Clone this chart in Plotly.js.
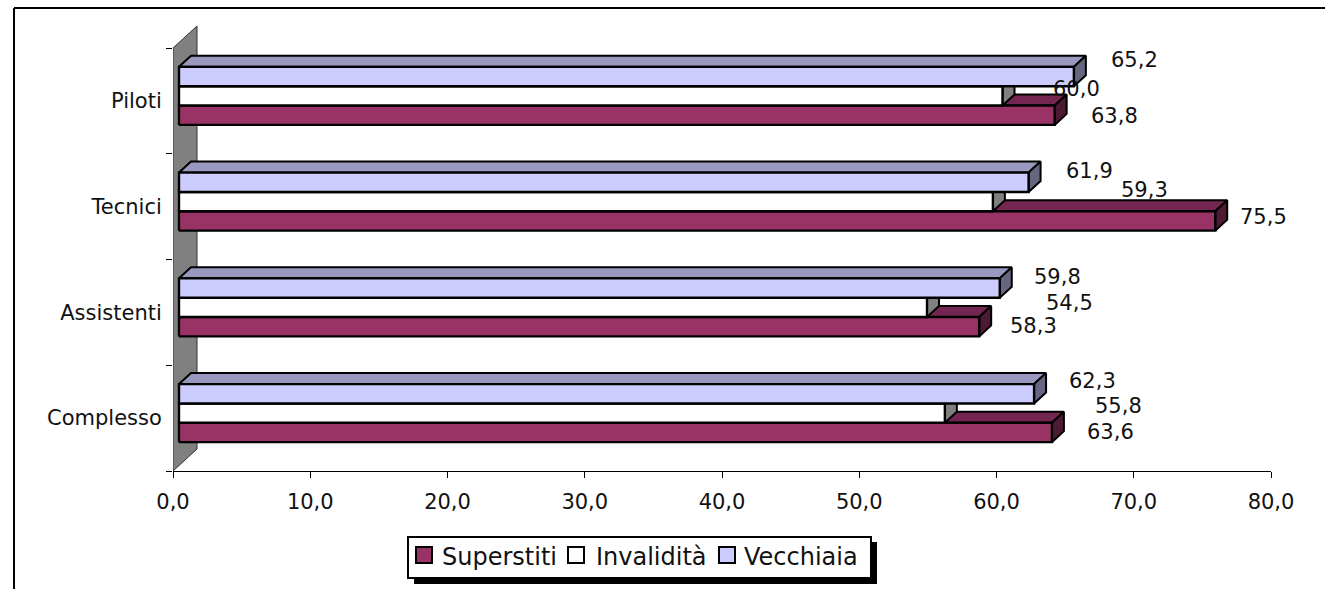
<!DOCTYPE html>
<html>
<head>
<meta charset="utf-8">
<script src="https://cdn.plot.ly/plotly-3.0.1.min.js"></script>
<style>html,body{margin:0;padding:0;background:#fff}#c{width:1325px;height:589px}</style>
</head>
<body>
<div id="c"></div>
<script>
const categories = ['Complesso', 'Assistenti', 'Tecnici', 'Piloti'];
const superstiti = [63.6, 58.3, 75.5, 63.8];
const invalidita = [55.8, 54.5, 59.3, 60.0];
const vecchiaia  = [62.3, 59.8, 61.9, 65.2];
const seriesNames = ['Superstiti', 'Invalidità', 'Vecchiaia'];
const xTicks = [0, 10, 20, 30, 40, 50, 60, 70, 80];

// Manually moved data labels: pixel shift from each bar's end, per series then category
const labelShiftX = [[59, 54, 48, 60], [174, 142, 152, 74], [58, 58, 61, 61]];
const labelShiftY = [[0, 1, 4, -1], [7, 4, 12, 7], [13, 11, 11, 17]];

const frontColors = ['#993366', '#FFFFFF', '#CCCCFF'];
const topColors   = ['#732650', '#BFBFBF', '#9999BF'];
const sideColors  = ['#4D1A33', '#808080', '#666680'];

// Layout in pixels
const W = 1325, H = 589, L = 173, R = 1271, B = 471, BAND = 105.75, PT = 18;
const PXX = (R - L) / 80;
const yMax = (B - PT) / BAND;
const ox = 6 / PXX, oy = 5 / BAND;       // bar front offset from wall plane
const dx = 12 / PXX, dy = 11 / BAND;     // bar depth
const wx = 24 / PXX, wy = 22 / BAND;     // wall depth
const barH = 19.35 / BAND;
const px = v => (v - L) / (R - L), py = v => (B - v) / (B - PT);

const all = [superstiti, invalidita, vecchiaia];
const traces = [];
function poly(xs, ys, fill, lw, col) {
  traces.push({type: 'scatter', mode: 'lines', x: [...xs, xs[0]], y: [...ys, ys[0]], fill: 'toself',
    fillcolor: fill, line: {color: col || '#000', width: lw}, showlegend: false, hoverinfo: 'skip'});
}
// wall
poly([0, wx, wx, 0], [0, wy, 4 + wy, 4], '#808080', 1, '#333');

const annotations = [];
categories.forEach((c, i) => {
  all.forEach((vals, s) => {
    const v = vals[i];
    const y0 = i + 0.5 + oy + (s - 1.5) * barH, y1 = y0 + barH;
    const x0 = ox, x1 = ox + v;
    poly([x0, x0 + dx, x1 + dx, x1], [y1, y1 + dy, y1 + dy, y1], topColors[s], 2);
    poly([x1, x1 + dx, x1 + dx, x1], [y0, y0 + dy, y1 + dy, y1], sideColors[s], 2);
    poly([x0, x1, x1, x0], [y0, y0, y1, y1], frontColors[s], 2.4);
    annotations.push({x: x1, y: (y0 + y1) / 2, xref: 'x', yref: 'y', showarrow: false,
      text: v.toFixed(1).replace('.', ','), xanchor: 'center', yanchor: 'middle',
      xshift: labelShiftX[s][i], yshift: labelShiftY[s][i],
      font: {family: 'DejaVu Sans', size: 21, color: '#111'}});
  });
});

// Legend box, swatches and labels
const rect = (x0, x1, y0, y1, fill, lw) => ({type: 'rect', xref: 'paper', yref: 'paper',
  x0: px(x0), x1: px(x1), y0: py(y0), y1: py(y1), fillcolor: fill, line: {color: '#000', width: lw}});
const legendSwatchX = [416, 568, 719];
const legendTextX = [441, 595, 743];
const legendShapes = [rect(414, 877, 542, 584, '#000', 0), rect(408, 871, 537, 578, '#fff', 2)];
seriesNames.forEach((n, s) => {
  legendShapes.push(rect(legendSwatchX[s], legendSwatchX[s] + 16, 547, 563, frontColors[s], 2));
  annotations.push({xref: 'paper', yref: 'paper', x: px(legendTextX[s]), y: py(556.5), text: n, showarrow: false,
    xanchor: 'left', yanchor: 'middle', xshift: -1, font: {family: 'DejaVu Sans', size: 24, color: '#111'}});
});

const layout = {
  width: W, height: H, paper_bgcolor: '#fff', plot_bgcolor: 'rgba(0,0,0,0)',
  separators: ',.', showlegend: false, hovermode: false,
  margin: {l: L, r: W - R, t: PT, b: H - B, pad: 0, autoexpand: false},
  font: {family: 'DejaVu Sans', size: 21, color: '#111'},
  xaxis: {range: [0, 80], tickvals: xTicks, tickformat: '.1f', showgrid: false, zeroline: false,
    showline: true, linecolor: '#000', linewidth: 1, ticks: 'outside', ticklen: 6, tickcolor: '#000', ticklabelstandoff: 6},
  yaxis: {range: [0, yMax], tickvals: categories.map((c, i) => i + 0.5), ticktext: categories,
    showgrid: false, zeroline: false, showline: false, ticks: 'outside', ticklen: 0, ticklabelstandoff: 6,
    minor: {tickvals: [0, 1, 2, 3, 4], ticks: 'outside', ticklen: 6, tickcolor: '#000', tickwidth: 1, showgrid: false}},
  shapes: [
    ...legendShapes,
    {type: 'line', xref: 'paper', yref: 'paper', x0: px(14), x1: px(14), y0: py(8), y1: py(589), line: {color: '#000', width: 2}},
    {type: 'line', xref: 'paper', yref: 'paper', x0: px(14), x1: px(1325), y0: py(8), y1: py(8), line: {color: '#000', width: 2}}
  ],
  annotations
};
Plotly.newPlot('c', traces, layout, {displayModeBar: false, staticPlot: true});
</script>
</body>
</html>
